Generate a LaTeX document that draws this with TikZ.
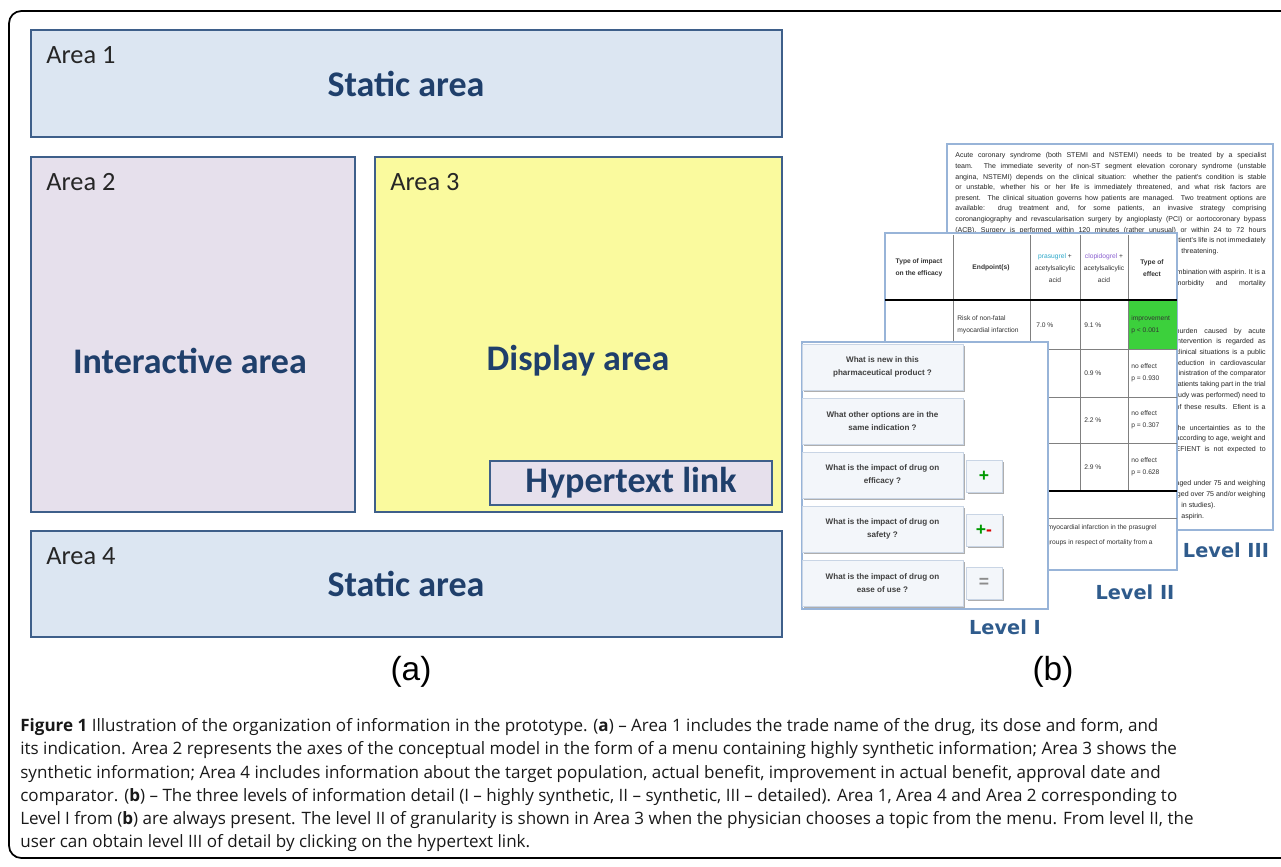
\documentclass[tikz,border=0pt]{standalone}
\usepackage{fontspec}
\setmainfont{Carlito}
\newfontfamily\capfont{Open Sans}
\newfontfamily\levelfont{DejaVu Sans}
\newfontfamily\arialfont{Liberation Sans}
\usepackage{xcolor}
\usetikzlibrary{shadows}
\definecolor{areaedge}{HTML}{3E5F8A}
\definecolor{areablue}{HTML}{DCE6F2}
\definecolor{arealilac}{HTML}{E6E0EC}
\definecolor{areayellow}{HTML}{FAFA9E}
\definecolor{titleblue}{HTML}{1F3F6B}
\definecolor{levelblue}{HTML}{2F5B8C}
\definecolor{pageedge}{HTML}{98B4D8}
\definecolor{btnfill}{HTML}{F3F6FA}
\definecolor{btnedge}{HTML}{C9D5E5}
\definecolor{btnshade}{HTML}{9A9A9A}
\definecolor{cellgreen}{HTML}{3CD03C}
\definecolor{gridgray}{HTML}{808080}
\definecolor{prasublue}{HTML}{2AA7C9}
\definecolor{clopipurple}{HTML}{8A5FD0}
\newcommand{\fullline}[1]{\hbox to 6.22cm{#1}}
\newcommand{\cutline}[1]{\hbox to 1.8cm{\hskip 0pt minus 1fil #1}}

\begin{document}
\begin{tikzpicture}[x=0.02cm,y=-0.02cm,
    areabox/.style={draw=areaedge,line width=1.6pt},
    areaname/.style={anchor=base west,inner sep=0,text=black!85,font=\fontsize{15}{18}\selectfont},
    areatitle/.style={inner sep=0,text=titleblue,font=\bfseries\fontsize{20.5}{24}\selectfont},
    page/.style={draw=pageedge,line width=0.8pt,fill=white,drop shadow={shadow xshift=0.8pt,shadow yshift=-0.8pt,opacity=0.25}},
    levelname/.style={inner sep=0,text=levelblue,font=\levelfont\bfseries\fontsize{11}{13}\selectfont},
    notetext/.style={inner sep=0,text=black!85,font=\arialfont\fontsize{4}{5}\selectfont},
    celltext/.style={inner sep=0,align=left,text=black!80,font=\arialfont\fontsize{3.8}{7}\selectfont},
    headtext/.style={celltext,align=center,font=\arialfont\bfseries\fontsize{3.8}{7}\selectfont},
    tablerule/.style={draw=gridgray,line width=0.4pt},
    thickrule/.style={draw=black,line width=1.3pt},
    menubtn/.style={draw=btnedge,fill=btnfill,line width=0.5pt,minimum width=3.22cm,minimum height=0.92cm,
      align=center,inner sep=0,text=black!75,font=\arialfont\bfseries\fontsize{4.6}{7.4}\selectfont,
      drop shadow={shadow xshift=1pt,shadow yshift=-1pt,fill=btnshade,opacity=0.8}},
    signbtn/.style={menubtn,minimum width=0.72cm,minimum height=0.64cm,font=\arialfont\bfseries\fontsize{10}{12}\selectfont}
  ]
  \useasboundingbox (0,0) rectangle (1281,866);
  \draw[line width=1pt,rounded corners=7pt] (9,11) rectangle (1300,858);

  % (a) screen areas
  \draw[areabox,fill=areablue] (31,30) rectangle (782,137);
  \draw[areabox,fill=arealilac] (31,157) rectangle (355,512);
  \draw[areabox,fill=areayellow] (375,157) rectangle (782,512);
  \draw[areabox,fill=arealilac] (490,461) rectangle (772,505);
  \draw[areabox,fill=areablue] (31,531) rectangle (782,637);
  \node[areaname] (area1) at (46,63) {Area 1};
  \node[areaname] (area2) at (46,190) {Area 2};
  \node[areaname] (area3) at (390,190) {Area 3};
  \node[areaname] (area4) at (46,564) {Area 4};
  \node[areatitle] (static1) at (406,84) {Static area};
  \node[areatitle] (inter) at (190,361) {Interactive area};
  \node[areatitle] (display) at (578,361) {Display area};
  \node[areatitle] (link) at (631,483) {Hypertext link};
  \node[areatitle] (static4) at (406,584) {Static area};
  \node[inner sep=0,font=\arialfont\fontsize{19}{22}\selectfont] (parta) at (411,672) {(a)};

  % (b) level III
  \draw[page] (947,144) rectangle (1273,530);
  \node[notetext,anchor=west] (l3a) at (955,156) {\fullline{Acute coronary syndrome (both STEMI and NSTEMI) needs to be treated by a specialist}};
  \node[notetext,anchor=west] (l3b) at (955,166.6) {\fullline{team. The immediate severity of non-ST segment elevation coronary syndrome (unstable}};
  \node[notetext,anchor=west] (l3c) at (955,177.2) {\fullline{angina, NSTEMI) depends on the clinical situation: whether the patient's condition is stable}};
  \node[notetext,anchor=west] (l3d) at (955,187.8) {\fullline{or unstable, whether his or her life is immediately threatened, and what risk factors are}};
  \node[notetext,anchor=west] (l3e) at (955,198.4) {\fullline{present. The clinical situation governs how patients are managed. Two treatment options are}};
  \node[notetext,anchor=west] (l3f) at (955,209) {\fullline{available: drug treatment and, for some patients, an invasive strategy comprising}};
  \node[notetext,anchor=west] (l3g) at (955,219.6) {\fullline{coronangiography and revascularisation surgery by angioplasty (PCI) or aortocoronary bypass}};
  \node[notetext,anchor=west] (l3h) at (955,230.2) {\fullline{(ACB). Surgery is performed within 120 minutes (rather unusual) or within 24 to 72 hours}};
  \foreach \y/\txt in {241/{patient's life is not immediately},273/{combination with aspirin. It is a},
      283.5/{morbidity and mortality},331.5/{burden caused by acute},342/{intervention is regarded as},
      352.5/{clinical situations is a public},363/{reduction in cardiovascular},
      373.5/{administration of the comparator},384.5/{patients taking part in the trial},
      395.5/{study was performed) need to},406.5/{of these results. Efient is a},
      428/{the uncertainties as to the},439/{according to age, weight and},
      450/{EFIENT is not expected to},484/{aged under 75 and weighing},
      495/{aged over 75 and/or weighing}}
    \node[notetext,anchor=east] at (1266,\y) {\cutline{\txt}};
  \node[notetext,anchor=west] (l3end1) at (1181,251.5) {threatening.};
  \node[notetext,anchor=west] (l3end2) at (1181,506) {in studies).};
  \node[notetext,anchor=west] (l3end3) at (1181,517) {aspirin.};
  \node[levelname] (level3) at (1226,550) {Level III};

  % level II
  \draw[page] (885,233) rectangle (1177,570);
  \fill[cellgreen] (1128,300) rectangle (1177,349);
  \foreach \x in {953,1030,1080,1128}
    \draw[tablerule] (\x,235) -- (\x,491);
  \foreach \y in {349,397,443,518}
    \draw[tablerule] (885,\y) -- (1177,\y);
  \draw[thickrule] (885,300) -- (1177,300);
  \draw[thickrule] (885,491) -- (1177,491);
  \node[headtext] (h1) at (919,268) {Type of impact\\on the efficacy};
  \node[headtext] (h2) at (991,268) {Endpoint(s)};
  \node[celltext,align=center] (h3) at (1055,268) {\textcolor{prasublue}{prasugrel} +\\acetylsalicylic\\acid};
  \node[celltext,align=center] (h4) at (1104,268) {\textcolor{clopipurple}{clopidogrel} +\\acetylsalicylic\\acid};
  \node[headtext] (h5) at (1152,268) {Type of\\effect};
  \node[celltext,anchor=west] (r1b) at (957,325) {Risk of non-fatal\\myocardial infarction};
  \node[celltext,anchor=west] (r1c) at (1036,325) {7.0 \%};
  \node[celltext,anchor=west] (r1d) at (1084,325) {9.1 \%};
  \node[celltext,anchor=west] (r1e) at (1131,325) {improvement\\p < 0.001};
  \node[celltext,anchor=west] (r2d) at (1084,373) {0.9 \%};
  \node[celltext,anchor=west] (r2e) at (1131,373) {no effect\\p = 0.930};
  \node[celltext,anchor=west] (r3d) at (1084,420) {2.2 \%};
  \node[celltext,anchor=west] (r3e) at (1131,420) {no effect\\p = 0.307};
  \node[celltext,anchor=west] (r4d) at (1084,467) {2.9 \%};
  \node[celltext,anchor=west] (r4e) at (1131,467) {no effect\\p = 0.628};
  \node[celltext,anchor=east] (foot1) at (1157,528) {non-fatal myocardial infarction in the prasugrel};
  \node[celltext,anchor=east] (foot2) at (1153,543) {the two groups in respect of mortality from a};
  \node[levelname] (level2) at (1135,592) {Level II};

  % level I
  \draw[page] (802,342) rectangle (1048,609);
  \foreach \txt [count=\i] in {{What is new in this\\pharmaceutical product ?},
      {What other options are in the\\same indication ?},
      {What is the impact of drug on\\efficacy ?},
      {What is the impact of drug on\\safety ?},
      {What is the impact of drug on\\ease of use ?}}
    \node[menubtn] (q\i) at (882.5,313+54*\i) {\txt};
  \node[signbtn,text=green!60!black] (plus) at (984,476) {+};
  \node[signbtn] (plusminus) at (984,530) {\textcolor{green!60!black}{+}\textcolor{red!85!black}{-}};
  \node[signbtn,text=black!45] (equal) at (984,583) {=};
  \node[levelname] (level1) at (1005,627) {Level I};
  \node[inner sep=0,font=\arialfont\fontsize{19}{22}\selectfont] (partb) at (1053,672) {(b)};

  % caption
  \node[anchor=north west,inner sep=0,align=left,text=black!90,font=\capfont\fontsize{9.7}{13.27}\selectfont] (caption) at (20,718)
    {\textbf{Figure 1} Illustration of the organization of information in the prototype. (\textbf{a}) – Area 1 includes the trade name of the drug, its dose and form, and\\
     its indication. Area 2 represents the axes of the conceptual model in the form of a menu containing highly synthetic information; Area 3 shows the\\
     synthetic information; Area 4 includes information about the target population, actual benefit, improvement in actual benefit, approval date and\\
     comparator. (\textbf{b}) – The three levels of information detail (I – highly synthetic, II – synthetic, III – detailed). Area 1, Area 4 and Area 2 corresponding to\\
     Level I from (\textbf{b}) are always present. The level II of granularity is shown in Area 3 when the physician chooses a topic from the menu. From level II, the\\
     user can obtain level III of detail by clicking on the hypertext link.};
\end{tikzpicture}
\end{document}
